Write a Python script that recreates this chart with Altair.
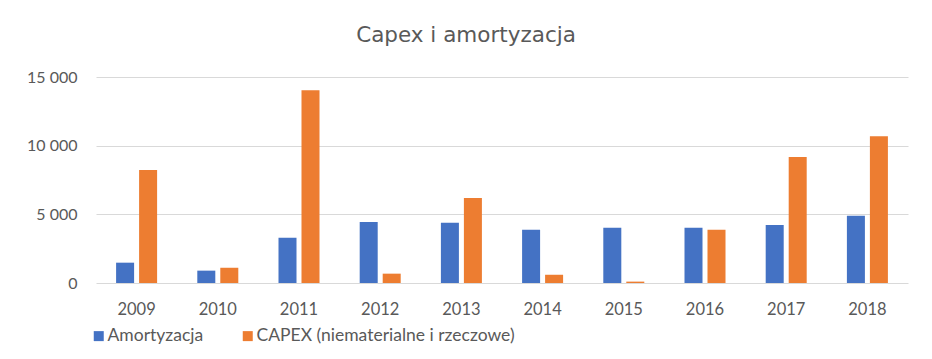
import altair as alt
import pandas as pd

years = ["2009", "2010", "2011", "2012", "2013", "2014", "2015", "2016", "2017", "2018"]
amortyzacja = [1480, 900, 3290, 4450, 4380, 3870, 4020, 4020, 4230, 4890]
capex = [8230, 1110, 14030, 680, 6190, 600, 100, 3870, 9170, 10690]
series = ["Amortyzacja", "CAPEX (niematerialne i rzeczowe)"]
colors = ["#4472C4", "#ED7D31"]
y_ticks = [0, 5000, 10000, 15000]

rows = []
for i, yr in enumerate(years):
    rows.append({"year": yr, "series": series[0], "value": amortyzacja[i]})
    rows.append({"year": yr, "series": series[1], "value": capex[i]})
df = pd.DataFrame(rows)

FONT = "Lato"
TXT = "#595959"

chart = alt.Chart(df).mark_bar().encode(
    x=alt.X("year:N", sort=years,
            scale=alt.Scale(paddingInner=0.495, paddingOuter=0.2475),
            axis=alt.Axis(title=None, labelAngle=0, ticks=False, domain=False,
                          labelFontSize=16.5, labelFont=FONT, labelColor=TXT,
                          labelPadding=18)),
    xOffset=alt.XOffset("series:N", sort=series,
                        scale=alt.Scale(paddingInner=0.217, paddingOuter=0)),
    y=alt.Y("value:Q", scale=alt.Scale(domain=[0, 15000], nice=False),
            axis=alt.Axis(title=None, values=y_ticks, ticks=False, domain=False,
                          labelExpr="replace(format(datum.value, ','), ',', ' ')",
                          labelFontSize=16, labelFont=FONT, labelColor=TXT,
                          labelPadding=19, gridColor="#D9D9D9", gridWidth=1)),
    color=alt.Color("series:N",
                    scale=alt.Scale(domain=series, range=colors),
                    legend=alt.Legend(title=None, orient="none", legendX=-6, legendY=250,
                                      direction="horizontal", symbolType="square",
                                      symbolSize=100, symbolStrokeWidth=0,
                                      labelFontSize=17.5, labelFont=FONT, labelColor=TXT,
                                      labelLimit=500, columnPadding=35, labelOffset=0)),
).properties(
    width=812, height=206,
    title=alt.TitleParams("Capex i amortyzacja", font="DejaVu Sans", fontSize=21.5, color=TXT,
                          fontWeight="normal", anchor="middle", frame="group", dx=-36,
                          offset=23),
    autosize=alt.AutoSizeParams(type="none"),
    padding={"left": 88, "top": 69, "right": 16, "bottom": 67},
).configure_view(stroke=None)

chart.save("out.html", embed_options={"renderer": "svg", "actions": False})
